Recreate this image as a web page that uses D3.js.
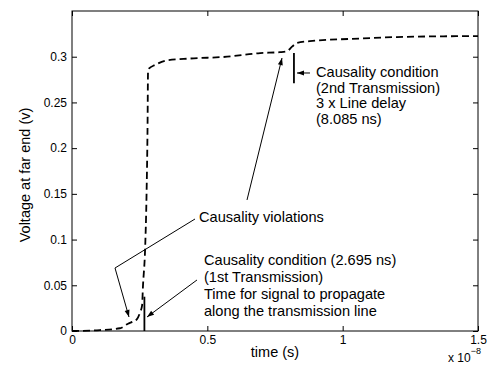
<!DOCTYPE html>
<html><head><meta charset="utf-8">
<script src="https://cdn.jsdelivr.net/npm/d3@7"></script>
<style>
html,body{margin:0;padding:0;background:#fff;}
text{font-family:"Liberation Sans",Arial,Helvetica,sans-serif;fill:#000;}
</style></head>
<body>
<svg id="chart" width="487" height="368"></svg>
<script>
// time in units of 1e-8 s, voltage in V
const timeValues = [0, 0.103, 0.177, 0.207, 0.222, 0.240, 0.251, 0.259, 0.262, 0.270, 0.275, 0.279, 0.281, 0.284, 0.307, 0.351, 0.436, 0.573, 0.695, 0.768, 0.794, 0.813, 0.831, 0.879, 1.075, 1.2, 1.5];
const voltageValues = [0, 0.001, 0.003, 0.008, 0.010, 0.013, 0.020, 0.028, 0.048, 0.089, 0.143, 0.22, 0.285, 0.287, 0.291, 0.296, 0.298, 0.300, 0.304, 0.305, 0.306, 0.311, 0.315, 0.317, 0.320, 0.3215, 0.3226];
const xTicks = [0, 0.5, 1, 1.5];
const xTickLabels = ["0", "0.5", "1", "1.5"];
const yTicks = [0, 0.05, 0.1, 0.15, 0.2, 0.25, 0.3];
const yTickLabels = ["0", "0.05", "0.1", "0.15", "0.2", "0.25", "0.3"];
// causality condition markers: [time, vLow, vHigh]
const markerTimes = [0.2675, 0.82];
const markerLow = [0, 0.271];
const markerHigh = [0.0375, 0.304];
const annotationTexts = [
  ["Causality condition", "(2nd Transmission)", "3 x Line delay", "(8.085 ns)"],
  ["Causality violations"],
  ["Causality condition (2.695 ns)", "(1st Transmission)", "Time for signal to propagate", "along the transmission line"]
];
const annotationAnchorT = [0.9015, 0.4692, 0.4877];
const annotationAnchorV = [0.2833, 0.1247, 0.0777];
const annotationLineStep = [15.7, 0, 17];

const svg = d3.select("#chart");
const m = {l: 72, r: 9, t: 11, b: 37};
const W = 487, H = 368;
const x = d3.scaleLinear().domain([0, 1.5]).range([m.l, W - m.r]);
const y = d3.scaleLinear().domain([0, 0.35]).range([H - m.b, m.t]);

const fs = 12;
// axes (inner ticks, MATLAB box)
const gx = svg.append("g").attr("transform", `translate(0,${y(0)})`)
  .call(d3.axisBottom(x).tickValues(xTicks).tickFormat((d,i)=>xTickLabels[i]).tickSize(-5).tickPadding(4));
const gxt = svg.append("g").attr("transform", `translate(0,${y(0.35)})`)
  .call(d3.axisTop(x).tickValues(xTicks).tickFormat("").tickSize(-5));
const gy = svg.append("g").attr("transform", `translate(${x(0)},0)`)
  .call(d3.axisLeft(y).tickValues(yTicks).tickFormat((d,i)=>yTickLabels[i]).tickSize(-5).tickPadding(5));
const gyr = svg.append("g").attr("transform", `translate(${x(1.5)},0)`)
  .call(d3.axisRight(y).tickValues(yTicks).tickFormat("").tickSize(-5));
[gx,gxt,gy,gyr].forEach(g=>{
  g.select(".domain").remove();
  g.selectAll("line").attr("stroke","#000");
  g.selectAll("text").attr("font-size", fs).attr("font-family","Liberation Sans, Arial, sans-serif").attr("fill","#000");
});
svg.append("rect").attr("x", x(0)).attr("y", y(0.35)).attr("width", x(1.5)-x(0)).attr("height", y(0)-y(0.35))
  .attr("fill","none").attr("stroke","#000").attr("stroke-width",1);

// exponent label
const ex = svg.append("text").attr("x", 448).attr("y", 362).attr("font-size", fs);
ex.append("tspan").text("x 10");
ex.append("tspan").attr("dy", -8).attr("font-size", 9).text("\u22128");

// axis labels
svg.append("text").attr("x", (x(0)+x(1.5))/2).attr("y", 357).attr("text-anchor","middle").attr("font-size",14.5).text("time (s)");
svg.append("text").attr("transform", `translate(30,${(y(0)+y(0.35))/2 + 4}) rotate(-90)`).attr("text-anchor","middle").attr("font-size",14.5).text("Voltage at far end (v)");

// curve
const data = timeValues.map((t,i)=>({t, v: voltageValues[i]}));
svg.append("path").datum(data)
  .attr("d", d3.line().x(d=>x(d.t)).y(d=>y(d.v)).curve(d3.curveMonotoneX))
  .attr("fill","none").attr("stroke","#000").attr("stroke-width",1.8).attr("stroke-dasharray","7,4");

// markers
markerTimes.forEach((t,i)=>{
  svg.append("line").attr("x1", x(t)).attr("x2", x(t)).attr("y1", y(markerLow[i])).attr("y2", y(markerHigh[i]))
    .attr("stroke","#000").attr("stroke-width",1.8);
});

// annotations text
annotationTexts.forEach((lines,i)=>{
  const tx = svg.append("text").attr("x", x(annotationAnchorT[i])).attr("y", y(annotationAnchorV[i])).attr("font-size",14.6);
  lines.forEach((s,j)=>{
    tx.append("tspan").attr("x", x(annotationAnchorT[i])).attr("dy", j===0? "0.35em" : annotationLineStep[i]).text(s);
  });
});

// annotation arrows (data coords): polyline points, arrowhead at the last point
const arrowT = [[0.4544, 0.1589, 0.2106], [0.6466, 0.7759], [0.4618, 0.2771], [0.8793, 0.8313]];
const arrowV = [[0.1225, 0.0689, 0.0153], [0.1433, 0.2986], [0.0558, 0.0153], [0.2822, 0.2822]];
arrowT.forEach((ts,i)=>{
  const pts = ts.map((t,j)=>[x(t), y(arrowV[i][j])]);
  svg.append("path").attr("d", d3.line()(pts)).attr("fill","none").attr("stroke","#000").attr("stroke-width",1);
  const [x1,y1] = pts[pts.length-2], [x2,y2] = pts[pts.length-1];
  const a = Math.atan2(y2-y1, x2-x1), L = 7, w = 2.5;
  const bx = x2 - L*Math.cos(a), by = y2 - L*Math.sin(a);
  const p1 = [bx + w*Math.sin(a), by - w*Math.cos(a)], p2 = [bx - w*Math.sin(a), by + w*Math.cos(a)];
  svg.append("path").attr("d", `M${x2},${y2}L${p1[0]},${p1[1]}L${p2[0]},${p2[1]}Z`).attr("fill","#000");
});
</script>
</body></html>
